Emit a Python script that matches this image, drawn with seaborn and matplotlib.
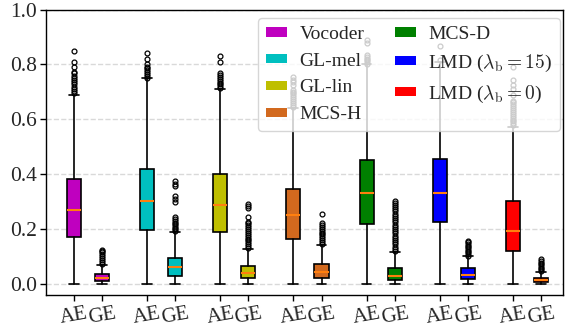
import matplotlib
matplotlib.use("Agg")
import matplotlib.pyplot as plt
from matplotlib.patches import Patch
import seaborn as sns

sns.set_theme(style="ticks")
plt.rcParams["font.family"] = ["Liberation Serif", "DejaVu Serif"]
plt.rcParams["mathtext.fontset"] = "cm"

methods = ["Vocoder", "GL-mel", "GL-lin", "MCS-H", "MCS-D",
           r"LMD ($\lambda_\mathrm{b} = 15$)", r"LMD ($\lambda_\mathrm{b} = 0$)"]
colors = ["#bf00bf", "#00bfbf", "#bfbf00", "#d2691e", "#008000", "#0000ff", "#ff0000"]
metrics = ["AE", "GE"]

# per method: [AE, GE]
q1 = [[0.172, 0.010], [0.196, 0.028], [0.189, 0.020], [0.164, 0.020],
      [0.218, 0.013], [0.224, 0.016], [0.120, 0.005]]
med = [[0.269, 0.020], [0.303, 0.060], [0.289, 0.040], [0.251, 0.044],
       [0.331, 0.030], [0.333, 0.032], [0.193, 0.013]]
q3 = [[0.381, 0.035], [0.418, 0.095], [0.400, 0.064], [0.347, 0.072],
      [0.450, 0.058], [0.455, 0.056], [0.302, 0.022]]
whislo = [[0.0, 0.0], [0.0, 0.0], [0.0, 0.0], [0.0, 0.0],
          [0.0, 0.0], [0.0, 0.0], [0.0, 0.0]]
whishi = [[0.690, 0.070], [0.750, 0.190], [0.710, 0.126], [0.640, 0.140],
          [0.800, 0.116], [0.810, 0.100], [0.573, 0.044]]
fliers = [
    [[0.695, 0.703, 0.711, 0.719, 0.727, 0.735, 0.743, 0.751, 0.759, 0.767, 0.772, 0.79, 0.81, 0.85],
     [0.073, 0.08, 0.087, 0.094, 0.101, 0.108, 0.115, 0.12, 0.125]],
    [[0.752, 0.758, 0.765, 0.772, 0.779, 0.786, 0.792, 0.80, 0.82, 0.84],
     [0.193, 0.199, 0.205, 0.211, 0.217, 0.223, 0.229, 0.235, 0.245, 0.30, 0.31, 0.32, 0.355, 0.365, 0.375]],
    [[0.713, 0.72, 0.727, 0.734, 0.741, 0.748, 0.755, 0.762, 0.768, 0.81, 0.83],
     [0.13, 0.137, 0.144, 0.151, 0.158, 0.165, 0.172, 0.179, 0.186, 0.193, 0.2, 0.207, 0.214, 0.221,
      0.226, 0.245, 0.275, 0.285, 0.292]],
    [[0.645, 0.652, 0.659, 0.666, 0.673, 0.68, 0.687, 0.694, 0.701, 0.708, 0.725, 0.735, 0.745, 0.755],
     [0.145, 0.152, 0.159, 0.166, 0.173, 0.18, 0.187, 0.194, 0.201, 0.208, 0.215, 0.221, 0.255]],
    [[0.803, 0.809, 0.815, 0.821, 0.827, 0.835, 0.877, 0.888],
     [0.12, 0.128, 0.136, 0.144, 0.152, 0.16, 0.168, 0.176, 0.184, 0.192, 0.2, 0.208, 0.216, 0.224,
      0.232, 0.24, 0.248, 0.256, 0.264, 0.272, 0.28, 0.288, 0.296, 0.302]],
    [[0.815, 0.868],
     [0.103, 0.109, 0.115, 0.121, 0.127, 0.133, 0.139, 0.145, 0.151, 0.155]],
    [[0.578, 0.585, 0.592, 0.599, 0.606, 0.613, 0.62, 0.627, 0.634, 0.641, 0.648, 0.655, 0.662, 0.668,
      0.69, 0.71, 0.725, 0.743, 0.789],
     [0.047, 0.053, 0.059, 0.065, 0.071, 0.077, 0.083, 0.089]],
]

fig = plt.figure(figsize=(5.66, 3.30), dpi=100)
ax = fig.add_axes([0.081, 0.105, 0.914, 0.866])

group_gap = 2.6
stats, positions, facecols, ticklabels = [], [], [], []
for i in range(len(methods)):
    for j in range(2):
        stats.append(dict(q1=q1[i][j], med=med[i][j], q3=q3[i][j],
                          whislo=whislo[i][j], whishi=whishi[i][j],
                          fliers=fliers[i][j]))
        positions.append(i * group_gap + j)
        facecols.append(colors[i])
        ticklabels.append(metrics[j])

bp = ax.bxp(stats, positions=positions, widths=0.5, capwidths=0.35,
            patch_artist=True, showfliers=True,
            boxprops=dict(edgecolor="black", linewidth=1.2),
            whiskerprops=dict(color="black", linewidth=1.2),
            capprops=dict(color="black", linewidth=1.2),
            medianprops=dict(color="#ff7f0e", linewidth=1.5),
            flierprops=dict(marker="o", markersize=3.5, markerfacecolor="none",
                            markeredgecolor="black", markeredgewidth=0.9))
for patch, c in zip(bp["boxes"], facecols):
    patch.set_facecolor(c)

ax.set_xlim(-1.0, 17.39)
ax.set_ylim(-0.042, 1.0)
ax.set_yticks([0.0, 0.2, 0.4, 0.6, 0.8, 1.0])
ax.set_yticklabels(["0.0", "0.2", "0.4", "0.6", "0.8", "1.0"], fontsize=15.5)
ax.set_xticks(positions)
ax.set_xticklabels(ticklabels, fontsize=15, rotation=10, ha="center")
ax.yaxis.grid(True, linestyle="--", color="#d9d9d9", linewidth=1.0)
ax.set_axisbelow(True)
for s in ax.spines.values():
    s.set_color("black")
    s.set_linewidth(1.0)
ax.tick_params(axis="both", direction="out", length=4, width=1, color="black", pad=2.5)

handles = [Patch(facecolor=c, edgecolor="none", label=m) for m, c in zip(methods, colors)]
ax.legend(handles=handles, ncol=2, loc="upper right", fontsize=14,
          bbox_to_anchor=(0.994, 0.970), borderaxespad=0.0,
          handlelength=1.05, handleheight=0.35, labelspacing=0.5,
          handletextpad=0.65, columnspacing=1.6, framealpha=0.8)

fig.savefig("out.png", dpi=100)
